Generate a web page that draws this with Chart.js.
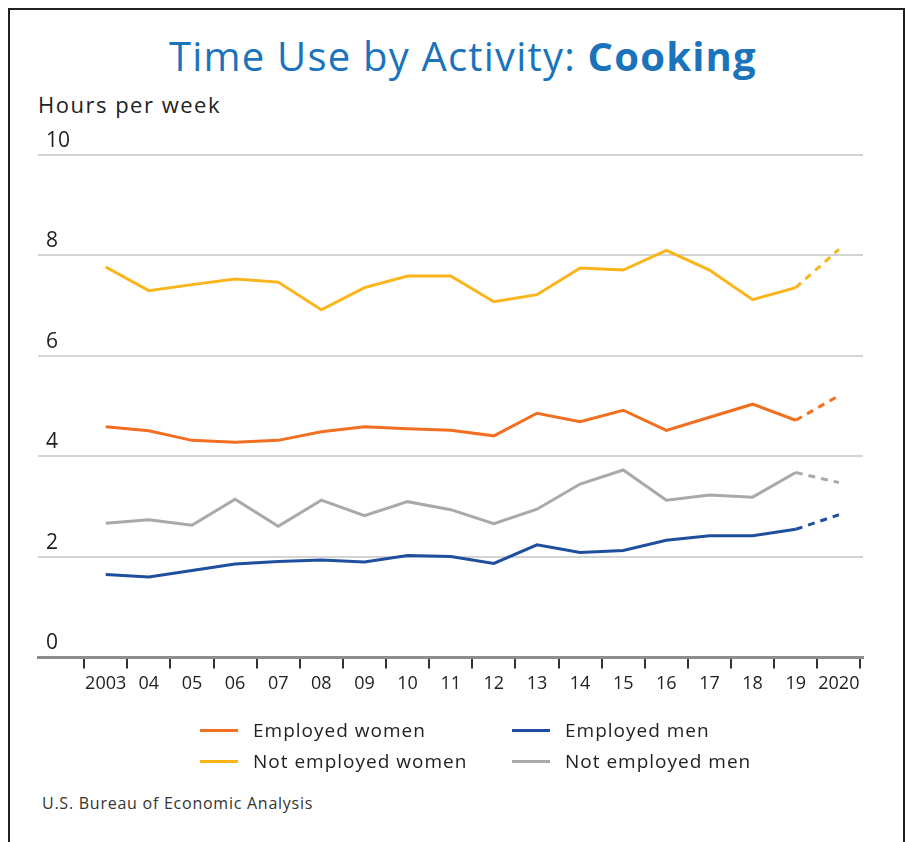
<!DOCTYPE html>
<html>
<head>
<meta charset="utf-8">
<script src="https://cdn.jsdelivr.net/npm/chart.js@4"></script>
<style>
  body { margin: 0; background: #fff; font-family: "Open Sans", sans-serif; }
  #page { position: relative; width: 906px; height: 842px; overflow: hidden; }
  #frame { position: absolute; left: 8px; top: 8px; width: 893px; height: 850px; border: 2px solid #222; }
  #title { position: absolute; left: 0; width: 926px; top: 28px; text-align: center; font-size: 40px; color: #1b74bb; letter-spacing: 1.2px; }
  #title b { font-weight: 700; }
  #unit { position: absolute; left: 38px; top: 89px; font-size: 22px; color: #222; letter-spacing: 1.5px; }
  #wrap { position: absolute; left: 0; top: 120px; width: 906px; height: 600px; }
  #legend { position: absolute; left: 200px; top: 717px; width: 620px; }
  .item { position: absolute; font-size: 19px; color: #222; white-space: nowrap; letter-spacing: 1px; }
  .item span { display: inline-block; width: 38px; height: 3px; vertical-align: middle; margin-right: 15px; position: relative; top: -1px; }
  #source { position: absolute; left: 42px; top: 792px; font-size: 16px; color: #333; letter-spacing: 0.75px; }
</style>
</head>
<body>
<div id="page">
  <div id="frame"></div>
  <div id="title">Time Use by Activity: <b>Cooking</b></div>
  <div id="unit">Hours per week</div>
  <div id="wrap"><canvas id="myChart"></canvas></div>
  <div id="legend"></div>
  <div id="source">U.S. Bureau of Economic Analysis</div>
</div>
<script>
// Años y horas por semana dedicadas a cocinar
const years = [2003, 2004, 2005, 2006, 2007, 2008, 2009, 2010, 2011, 2012, 2013, 2014, 2015, 2016, 2017, 2018, 2019, 2020];
const employedWomen = [4.59, 4.51, 4.32, 4.28, 4.32, 4.49, 4.59, 4.55, 4.52, 4.41, 4.86, 4.69, 4.92, 4.52, 4.78, 5.04, 4.72, 5.21];
const notEmployedWomen = [7.77, 7.30, 7.42, 7.53, 7.47, 6.92, 7.36, 7.59, 7.59, 7.08, 7.22, 7.75, 7.71, 8.10, 7.71, 7.12, 7.36, 8.12];
const employedMen = [1.65, 1.60, 1.73, 1.86, 1.91, 1.94, 1.90, 2.03, 2.01, 1.87, 2.24, 2.09, 2.13, 2.33, 2.42, 2.42, 2.55, 2.84];
const notEmployedMen = [2.67, 2.74, 2.63, 3.15, 2.61, 3.13, 2.82, 3.10, 2.94, 2.66, 2.95, 3.45, 3.73, 3.13, 3.23, 3.19, 3.68, 3.48];
const yTicks = [0, 2, 4, 6, 8, 10];

const series = [
    { label: 'Employed women', data: employedWomen, color: '#f26f22' },
    { label: 'Employed men', data: employedMen, color: '#1d4f9e' },
    { label: 'Not employed women', data: notEmployedWomen, color: '#fbb41a' },
    { label: 'Not employed men', data: notEmployedMen, color: '#a7a9ab' }
];

const lastIndex = years.length - 1;

const datasets = series.map(s => ({
    label: s.label,
    data: years.map((y, i) => ({ x: y, y: s.data[i] })),
    borderColor: s.color,
    backgroundColor: s.color,
    borderWidth: 3,
    pointRadius: 0,
    tension: 0,
    segment: {
        // El último tramo (2019-2020) va punteado
        borderDash: ctx => ctx.p1DataIndex === lastIndex ? [7, 6] : undefined
    }
}));

// Leyenda en HTML, dos columnas
const legend = document.getElementById('legend');
series.forEach((s, i) => {
    const div = document.createElement('div');
    div.className = 'item';
    div.style.left = (i % 2 === 0 ? 0 : 312) + 'px';
    div.style.top = (Math.floor(i / 2) * 31) + 'px';
    div.innerHTML = '<span style="background:' + s.color + '"></span>' + s.label;
    legend.appendChild(div);
});

const ctx = document.getElementById('myChart').getContext('2d');
const myChart = new Chart(ctx, {
    type: 'line',
    data: { datasets: datasets },
    options: {
        responsive: true,
        maintainAspectRatio: false,
        animation: false,
        layout: { padding: { top: 35, right: 43, bottom: 20, left: 22 } },
        plugins: { legend: { display: false }, tooltip: { enabled: false } },
        scales: {
            x: {
                type: 'linear',
                min: 2001.43,
                max: 2020.56,
                afterBuildTicks: axis => {
                    const t = [];
                    years.forEach(y => { t.push({ value: y - 0.5 }); t.push({ value: y }); });
                    t.push({ value: 2020.5 });
                    axis.ticks = t;
                },
                grid: {
                    drawOnChartArea: false,
                    drawTicks: true,
                    tickLength: 11,
                    lineWidth: 2,
                    color: c => (c.tick && Number.isInteger(c.tick.value)) ? 'rgba(0,0,0,0)' : '#333'
                },
                border: { display: true, color: '#8c8c8c', width: 3 },
                ticks: {
                    autoSkip: false,
                    maxRotation: 0,
                    padding: 5,
                    color: '#222',
                    font: { family: 'Open Sans', size: 18 },
                    callback: v => {
                        if (!Number.isInteger(v)) return '';
                        if (v === 2003 || v === 2020) return String(v);
                        return String(v).slice(2);
                    }
                }
            },
            y: {
                min: 0,
                max: 10,
                afterBuildTicks: axis => { axis.ticks = yTicks.map(v => ({ value: v })); },
                grid: { drawTicks: false, color: '#d4d4d4', lineWidth: 2 },
                border: { display: false },
                ticks: {
                    mirror: true,
                    padding: 8,
                    labelOffset: -14,
                    color: '#222',
                    font: { family: 'Open Sans', size: 21 }
                }
            }
        }
    }
});
</script>
</body>
</html>
